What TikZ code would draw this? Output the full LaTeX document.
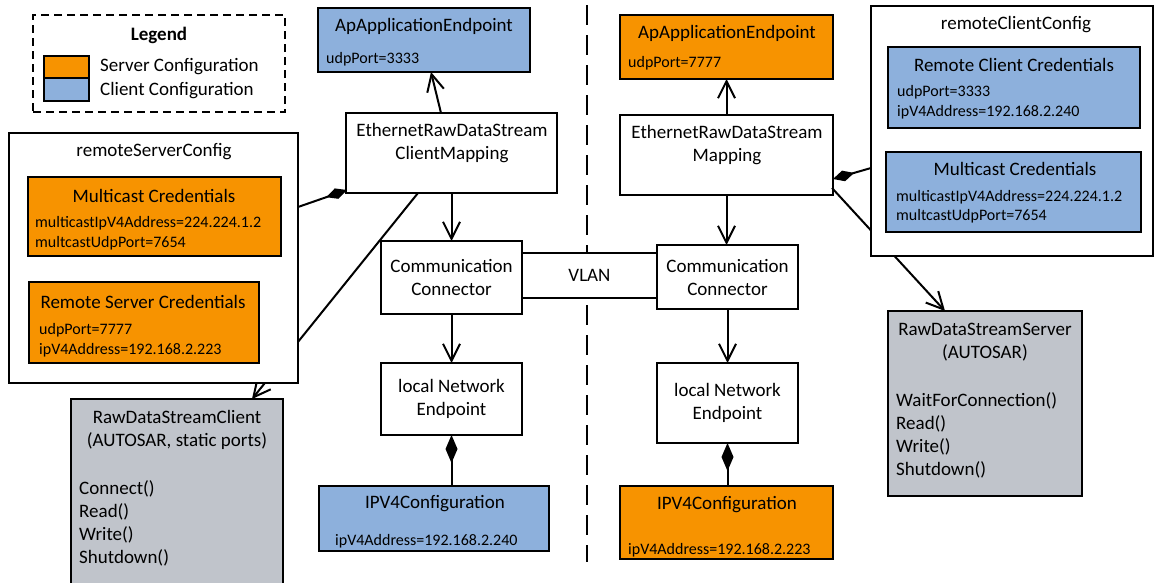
\documentclass[tikz,border=0pt]{standalone}
\usepackage{fontspec}
\setmainfont{Carlito}
\usetikzlibrary{arrows.meta,calc}
\definecolor{srvorange}{RGB}{247,147,0}
\definecolor{cliblue}{RGB}{141,176,220}
\definecolor{autgray}{RGB}{192,196,203}
\begin{document}
\begin{tikzpicture}[x=1pt,y=-1pt,
  box/.style={draw,line width=2pt,inner sep=0pt,outer sep=0pt},
  big/.style={font=\fontsize{19}{23}\selectfont,inner sep=0pt,align=center},
  bigw/.style={font=\fontsize{19}{23}\selectfont,inner sep=0pt,align=left,anchor=west},
  small/.style={font=\fontsize{16}{20}\selectfont,inner sep=0pt,anchor=west},
  conn/.style={line width=2pt},
  arr/.style={conn,-{Straight Barb[length=17pt,width=17pt,line width=2pt]}},
  compv/.style={conn,{Diamond[length=28pt,width=12pt]}-},
  comps/.style={conn,{Diamond[length=22pt,width=11pt]}-},
]
\clip (0,0) rectangle (1154,582);

% divider
\coordinate (dtop) at (587,5);
\coordinate (dbot) at (587,562);
\draw[line width=2pt,dash pattern=on 20pt off 10pt] (dtop) -- (dbot);

% legend
\node[draw,line width=1.8pt,dash pattern=on 8pt off 5pt,minimum width=252pt,minimum height=97pt,inner sep=0pt] (legend) at (159,63.5) {};
\node[inner sep=0pt,font=\fontsize{19}{23}\selectfont\bfseries] (legt) at (159,35) {Legend};
\node[box,fill=srvorange,minimum width=45pt,minimum height=22pt] (swo) at (66.5,67) {};
\node[box,fill=cliblue,minimum width=45pt,minimum height=23pt] (swb) at (66.5,89.5) {};
\node[bigw] (lego) at (100,67) {Server Configuration};
\node[bigw] (legb) at (100,91) {Client Configuration};

% ---------- left side ----------
\node[box,fill=cliblue,minimum width=212pt,minimum height=64pt] (apl) at (424,40) {};
\node[big] (aplt) at (424,26) {ApApplicationEndpoint};
\node[small] (apla) at (326,59) {udpPort=3333};

\node[box,fill=white,minimum width=211pt,minimum height=80pt] (erdsl) at (451.5,153) {};
\node[big] (erdslt) at (452,143.5) {EthernetRawDataStream\\ClientMapping};
\draw[arr] ([xshift=-10.5pt]erdsl.north) -- ([xshift=7pt]apl.south);

\node[box,fill=autgray,minimum width=212pt,minimum height=191pt] (rdsc) at (177,494.5) {};
\node[big] (rdsct) at (177,430) {RawDataStreamClient\\(AUTOSAR, static ports)};
\node[bigw] (rdscm) at (79,523) {Connect()\\Read()\\Write()\\Shutdown()};
\draw[arr] ([xshift=-33.5pt]erdsl.south) -- ([xshift=75pt]rdsc.north);

\node[box,fill=white,minimum width=289pt,minimum height=250pt] (rsc) at (153.5,258) {};
\node[big] (rsct) at (154,152) {remoteServerConfig};
\node[box,fill=srvorange,minimum width=253pt,minimum height=79pt] (mcl) at (154.5,216.5) {};
\node[big] (mclt) at (154,196) {Multicast Credentials};
\node[small] (mcla) at (35,223) {multicastIpV4Address=224.224.1.2};
\node[small] (mclb) at (35,243) {multcastUdpPort=7654};
\node[box,fill=srvorange,minimum width=230pt,minimum height=81pt] (rscr) at (144,322.5) {};
\node[big] (rscrt) at (143,302) {Remote Server Credentials};
\node[small] (rscra) at (39,330) {udpPort=7777};
\node[small] (rscrb) at (39,350) {ipV4Address=192.168.2.223};
\draw[comps] ($(erdsl.south west)+(1,-3)$) -- ($(rsc.north east)+(0,74)$);

\node[box,fill=white,minimum width=141pt,minimum height=73pt,big] (ccl) at (451.5,277.5) {Communication\\Connector};
\draw[arr] (erdsl.south) -- (ccl.north);

\node[box,fill=white,minimum width=135pt,minimum height=45pt,big] (vlan) at (589.5,275.5) {VLAN};

\node[box,fill=white,minimum width=141pt,minimum height=72pt,big] (lnel) at (451.5,399) {local Network\\Endpoint};
\draw[arr] (ccl.south) -- (lnel.north);

\node[box,fill=cliblue,minimum width=230pt,minimum height=65pt] (ipv4l) at (434,518.5) {};
\node[big] (ipv4lt) at (435,504) {IPV4Configuration};
\node[small] (ipv4la) at (335,541) {ipV4Address=192.168.2.240};
\draw[compv] (lnel.south) -- (lnel.south |- ipv4l.north);

% ---------- right side ----------
\node[box,fill=srvorange,minimum width=213pt,minimum height=64pt] (apr) at (726.5,47) {};
\node[big] (aprt) at (727,33) {ApApplicationEndpoint};
\node[small] (apra) at (628,63) {udpPort=7777};

\node[box,fill=white,minimum width=213pt,minimum height=80pt] (erdsr) at (726.5,155) {};
\node[big] (erdsrt) at (727,145.5) {EthernetRawDataStream\\Mapping};
\draw[arr] (erdsr.north) -- (apr.south);

\node[box,fill=autgray,minimum width=194pt,minimum height=185pt] (rdss) at (985,403.5) {};
\node[big] (rdsst) at (985,342.5) {RawDataStreamServer\\(AUTOSAR)};
\node[bigw] (rdssm) at (896,435.5) {WaitForConnection()\\Read()\\Write()\\Shutdown()};
\draw[arr] ($(erdsr.south east)+(-1,-7)$) -- ($(rdss.north)+(-40,0)$);

\node[box,fill=white,minimum width=282pt,minimum height=250pt] (rcc) at (1012,131) {};
\node[big] (rcct) at (1016,25) {remoteClientConfig};
\node[box,fill=cliblue,minimum width=252pt,minimum height=81pt] (rccr) at (1014,87.5) {};
\node[big] (rccrt) at (1014,65) {Remote Client Credentials};
\node[small] (rccra) at (897,92) {udpPort=3333};
\node[small] (rccrb) at (897,112) {ipV4Address=192.168.2.240};
\node[box,fill=cliblue,minimum width=255pt,minimum height=80pt] (mcr) at (1013.5,192) {};
\node[big] (mcrt) at (1015,169) {Multicast Credentials};
\node[small] (mcra) at (896,197) {multicastIpV4Address=224.224.1.2};
\node[small] (mcrb) at (896,216) {multcastUdpPort=7654};
\draw[comps] ($(erdsr.east)+(0,24)$) -- ($(rcc.west)+(0,37)$);

\node[box,fill=white,minimum width=141pt,minimum height=64pt,big] (ccr) at (727.5,277) {Communication\\Connector};
\draw[arr] (erdsr.south) -- (erdsr.south |- ccr.north);

\node[box,fill=white,minimum width=141pt,minimum height=80pt,big] (lner) at (727.5,403) {local Network\\Endpoint};
\draw[arr] (ccr.south) -- (lner.north);

\node[box,fill=srvorange,minimum width=213pt,minimum height=73pt] (ipv4r) at (726.5,522.5) {};
\node[big] (ipv4rt) at (727,505) {IPV4Configuration};
\node[small] (ipv4ra) at (628,550) {ipV4Address=192.168.2.223};
\draw[compv] (lner.south) -- (lner.south |- ipv4r.north);
\end{tikzpicture}
\end{document}
